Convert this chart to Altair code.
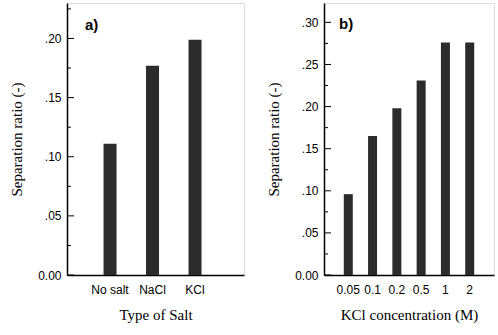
import altair as alt
import pandas as pd

# ---- data ----
salt_types = ["No salt", "NaCl", "KCl"]
salt_ratio = [0.111, 0.177, 0.199]

kcl_conc = ["0.05", "0.1", "0.2", "0.5", "1", "2"]
kcl_ratio = [0.096, 0.165, 0.198, 0.231, 0.276, 0.276]

a_major = [0.00, 0.05, 0.10, 0.15, 0.20]
a_minor = [0.025, 0.075, 0.125, 0.175, 0.225]
b_major = [0.00, 0.05, 0.10, 0.15, 0.20, 0.25, 0.30]
b_minor = [0.025, 0.075, 0.125, 0.175, 0.225, 0.275]

BAR = "#2b2b2b"
SANS = "Liberation Sans"
SERIF = "Liberation Serif"

ylab_expr = "datum.value == 0 ? '0.00' : replace(format(datum.value, '.2f'), '0.', '.')"


def panel(cats, vals, major, minor, pad_outer, align, ydom, width, height, bar_size,
          xtitle, tag, tag_x, tag_y):
    df = pd.DataFrame({"label": cats, "ratio": vals})
    x = alt.X("label:N", title=xtitle, sort=cats,
              scale=alt.Scale(paddingInner=0, paddingOuter=pad_outer, align=align),
              axis=alt.Axis(ticks=False, grid=False, labelAngle=0, labelPadding=9,
                            titlePadding=12, labelOverlap=False,
                            labelFont=SANS, labelFontSize=12, titleFont=SERIF,
                            titleFontSize=15, titleFontWeight="normal",
                            labelColor="black", titleColor="black",
                            domainColor="black", domainWidth=1.5))
    y = alt.Y("ratio:Q", title="Separation ratio (-)",
              scale=alt.Scale(domain=ydom, nice=False),
              axis=alt.Axis(values=major, labelExpr=ylab_expr, ticks=False, grid=False,
                            labelPadding=6, titlePadding=13, labelFont=SANS, labelFontSize=12,
                            labelOverlap=False, labelFlush=False,
                            titleFont=SERIF, titleFontSize=15, titleFontWeight="normal",
                            labelColor="black", titleColor="black",
                            domainColor="black", domainWidth=1.5))
    bars = alt.Chart(df).mark_bar(size=bar_size, color=BAR).encode(x=x, y=y)

    tmaj = alt.Chart(pd.DataFrame({"ratio": major})).mark_rule(color="black", strokeWidth=1).encode(
        y="ratio:Q", x=alt.value(0), x2=alt.value(7))
    tmin = alt.Chart(pd.DataFrame({"ratio": minor})).mark_rule(color="black", strokeWidth=1).encode(
        y="ratio:Q", x=alt.value(0), x2=alt.value(4))
    txt = alt.Chart(pd.DataFrame({"ratio": [tag_y], "t": [tag]})).mark_text(
        font=SANS, fontSize=15, fontWeight="bold", align="left", baseline="middle", color="black"
    ).encode(x=alt.value(tag_x), y="ratio:Q", text="t:N")
    return alt.layer(bars, tmaj, tmin, txt).properties(width=width, height=height)


pa = panel(salt_types, salt_ratio, a_major, a_minor, 0.5825, 0.44, [0, 0.23], 177, 272, 13,
           "Type of Salt", "a)", 18, 0.2115)
pb = panel(kcl_conc, kcl_ratio, b_major, b_minor, 0.5, 0.5, [0, 0.323], 170, 272, 9,
           "KCl concentration (M)", "b)", 15, 0.2985)

chart = alt.hconcat(pa, pb, spacing=21).properties(
    padding={"left": 9, "top": 2, "right": 0, "bottom": 0}
).configure_view(stroke="black", strokeWidth=1.5).configure(background="white")

chart.save("out.html", embed_options={"renderer": "svg", "actions": False})
